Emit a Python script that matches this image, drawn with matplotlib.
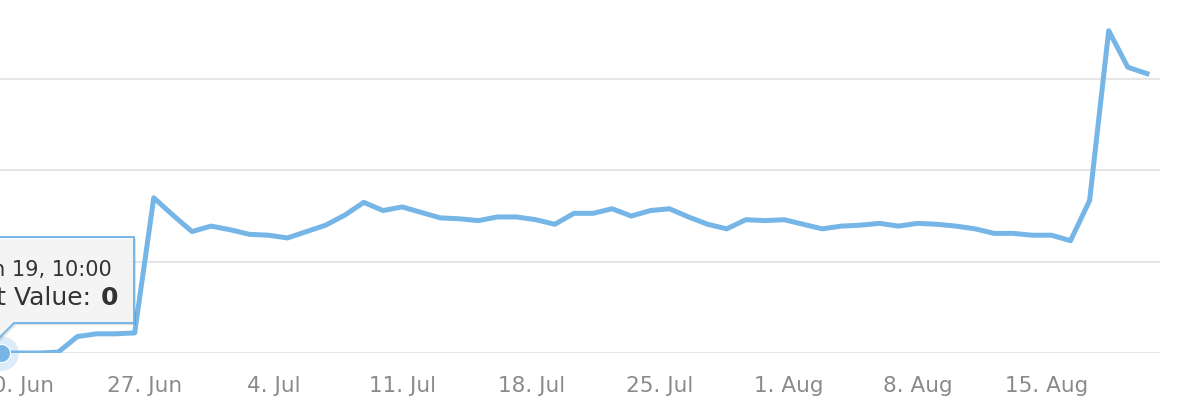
import matplotlib
matplotlib.use('Agg')
import matplotlib.pyplot as plt
import matplotlib.dates as mdates
from matplotlib.patches import Polygon
import pandas as pd

# samples (grid step = 100)
start_time = '2016-06-19 04:00'
end_time = '2016-08-20 11:30'
values = [0, 0, 0, 1, 18, 21, 21, 22, 170, 151,
          133, 139, 135, 130, 129, 126, 133, 140, 151, 165,
          156, 160, 154, 148, 147, 145, 149, 149, 146, 141,
          153, 153, 158, 150, 156, 158, 149, 141, 136, 146,
          145, 146, 141, 136, 139, 140, 142, 139, 142, 141,
          139, 136, 131, 131, 129, 129, 123, 167, 353, 313,
          306]
tick_dates = ['2016-06-20', '2016-06-27', '2016-07-04', '2016-07-11', '2016-07-18',
              '2016-07-25', '2016-08-01', '2016-08-08', '2016-08-15']
tooltip_header = 'Jun 19, 10:00'
tooltip_label = 'Current Value: '
tooltip_value = '0'

times = pd.date_range(start_time, end_time, periods=len(values))
ticks = pd.to_datetime(tick_dates)
tick_labels = [f'{d.day}. {d.strftime("%b")}' for d in ticks]

W, H = 1178, 406
fig = plt.figure(figsize=(W / 100, H / 100), dpi=100)
# axis bottom at y=354px, 400-line just above the top, plot right edge at 1160px
ax = fig.add_axes([0, (H - 354) / H, 1160 / W, (354 + 11.2) / H])

line_color = '#76b6e6'
ax.plot(times, values, color=line_color, lw=3.6, solid_joinstyle='round', zorder=3)
# hovered point with halo
ax.plot(times[0], values[0], 'o', ms=25, color=line_color, alpha=0.25, mec='none', zorder=4, clip_on=False)
ax.plot(times[0], values[0], 'o', ms=13, color=line_color, mec='white', mew=0.8, zorder=5, clip_on=False)

px_per_day = 18.39
d20 = mdates.date2num(ticks[0])
ax.set_xlim(d20 - 16.3 / px_per_day, d20 + (1160 - 16.3) / px_per_day)
ax.set_ylim(0, 400)
ax.set_yticks([0, 100, 200, 300, 400])
ax.yaxis.grid(True, color='#e6e6e6', lw=1.4)
ax.set_axisbelow(True)
ax.tick_params(axis='y', length=0, labelleft=False)
ax.set_xticks(ticks)
ax.set_xticklabels(tick_labels)
ax.tick_params(axis='x', length=0, pad=16, labelsize=15.5, labelcolor='#8a8a8a')
for s in ax.spines.values():
    s.set_visible(False)


def px(x, y):
    return (x / W, 1 - y / H)


# tooltip callout (box with pointer towards the hovered point)
box = [(-30, 238), (134, 238), (134, 324), (14, 324), (-2, 340), (-12, 324), (-30, 324)]
shadow = Polygon([px(x + 2, y + 2) for x, y in box], closed=True, transform=fig.transFigure,
                 facecolor='black', alpha=0.12, edgecolor='none', zorder=6)
tip = Polygon([px(x, y) for x, y in box], closed=True, transform=fig.transFigure,
              facecolor=(0.97, 0.97, 0.97, 0.9), edgecolor=line_color, lw=1.4, zorder=7)
fig.patches.extend([shadow, tip])

fig.text(*px(112, 270), tooltip_header, ha='right', va='center', fontsize=15, color='#333333', zorder=8)
fig.text(*px(99, 298), tooltip_label, ha='right', va='center', fontsize=18, color='#333333', zorder=8)
fig.text(*px(101, 298), tooltip_value, ha='left', va='center', fontsize=18, fontweight='bold', color='#333333', zorder=8)

fig.savefig('out.png', dpi=100)
